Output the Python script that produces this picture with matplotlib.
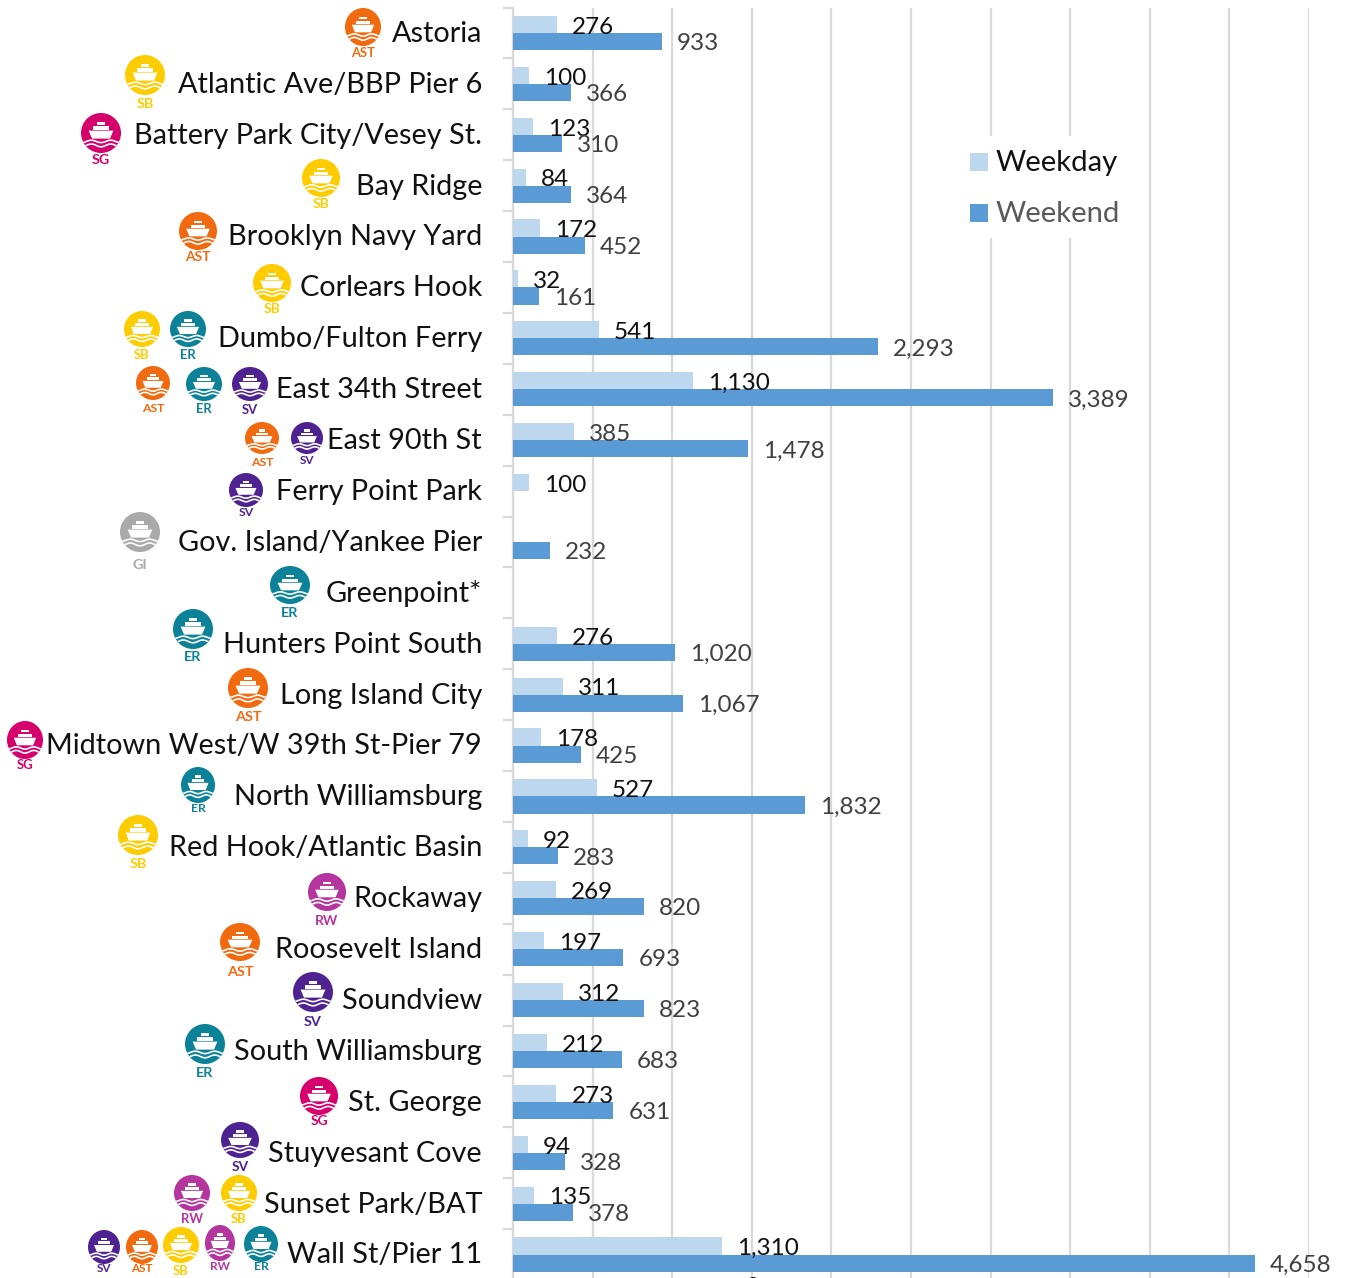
import numpy as np
import matplotlib
matplotlib.use("Agg")
import matplotlib.pyplot as plt
from matplotlib.patches import Ellipse, Polygon, Rectangle
from matplotlib.transforms import ScaledTranslation

stops = ["Astoria", "Atlantic Ave/BBP Pier 6", "Battery Park City/Vesey St.", "Bay Ridge",
         "Brooklyn Navy Yard", "Corlears Hook", "Dumbo/Fulton Ferry", "East 34th Street",
         "East 90th St", "Ferry Point Park", "Gov. Island/Yankee Pier", "Greenpoint*",
         "Hunters Point South", "Long Island City", "Midtown West/W 39th St-Pier 79",
         "North Williamsburg", "Red Hook/Atlantic Basin", "Rockaway", "Roosevelt Island",
         "Soundview", "South Williamsburg", "St. George", "Stuyvesant Cove",
         "Sunset Park/BAT", "Wall St/Pier 11"]
weekday = [276, 100, 123, 84, 172, 32, 541, 1130, 385, 100, np.nan, np.nan, 276, 311, 178,
           527, 92, 269, 197, 312, 212, 273, 94, 135, 1310]
weekend = [933, 366, 310, 364, 452, 161, 2293, 3389, 1478, np.nan, 232, np.nan, 1020, 1067,
           425, 1832, 283, 820, 693, 823, 683, 631, 328, 378, 4658]
series_names = ["Weekday", "Weekend"]
x_grid = [0, 500, 1000, 1500, 2000, 2500, 3000, 3500, 4000, 4500, 5000]

# route badges: code, centre x, centre y, radius x, radius y, label y (pixels)
badges = [("AST", 363, 27, 18, 19, 52), ("SB", 145, 75, 20, 20, 103), ("SG", 101, 133, 20, 20, 159),
          ("SB", 321, 178, 19, 19, 203), ("AST", 198, 231, 19, 19, 256), ("SB", 272, 283, 19, 19, 308),
          ("SB", 142, 329, 18, 18, 354), ("ER", 188, 329, 18, 18, 354), ("AST", 153, 383, 17, 17, 408),
          ("ER", 204, 384, 18, 17, 408), ("SV", 250, 384, 18, 17, 409), ("AST", 262, 438, 17, 16, 461),
          ("SV", 307, 438, 16, 16, 460), ("SV", 246, 490, 17, 17, 511), ("GI", 140, 532, 20, 20, 564),
          ("ER", 290, 585, 20, 19, 612), ("ER", 193, 629, 20, 20, 656), ("AST", 248, 688, 20, 20, 716),
          ("SG", 25, 740, 18, 19, 764), ("ER", 198, 785, 17, 18, 807), ("SB", 138, 835, 20, 20, 863),
          ("RW", 327, 892, 19, 19, 920), ("AST", 240, 942, 20, 19, 971), ("SV", 313, 992, 20, 20, 1021),
          ("ER", 205, 1044, 20, 20, 1072), ("SG", 319, 1096, 19, 19, 1120), ("SV", 240, 1140, 19, 18, 1166),
          ("RW", 192, 1193, 18, 18, 1218), ("SB", 239, 1193, 18, 18, 1218), ("SV", 104, 1247, 16, 17, 1268),
          ("AST", 142, 1247, 16, 17, 1268), ("SB", 181, 1245, 18, 18, 1270), ("RW", 220, 1243, 15, 18, 1266),
          ("ER", 261, 1244, 17, 18, 1266)]
badge_colors = {"AST": "#F26A0F", "SB": "#FFCC00", "SG": "#D6006D", "SV": "#4F2291",
                "ER": "#0B8297", "RW": "#B5359F", "GI": "#A9A9A9"}

W, H = 1348, 1278
FONT = ["Lato", "DejaVu Sans"]
plt.rcParams["font.family"] = FONT
fig = plt.figure(figsize=(W / 100, H / 100), dpi=100)

row = 50.9
top = 7.5
ax = fig.add_axes([513 / W, 1 - (top + 25 * row) / H, 796 / W, 25 * row / H])
y = np.arange(len(stops))
bar_h = 0.335
ax.barh(y - bar_h / 2, weekday, height=bar_h, color="#BDD7EE", zorder=3)
ax.barh(y + bar_h / 2, weekend, height=bar_h, color="#5B9BD5", zorder=3)
ax.set_xlim(0, 5000)
ax.set_ylim(len(stops) - 0.5, -0.5)
ax.set_xticks(x_grid)
ax.tick_params(axis="x", length=0, labelbottom=False)
ax.grid(axis="x", color="#D9D9D9", lw=1.6, zorder=0)
ax.set_axisbelow(True)
ax.set_yticks(y)
ax.set_yticklabels(stops, fontsize=20.8, color="#111111")
ax.tick_params(axis="y", which="major", length=0, pad=22.3)
ax.set_yticks(np.arange(len(stops) + 1) - 0.5, minor=True)
ax.tick_params(axis="y", which="minor", length=7, width=1.6, color="#D9D9D9")
shift = ScaledTranslation(0, 1.6 / 100, fig.dpi_scale_trans)
for lab in ax.get_yticklabels():
    lab.set_transform(lab.get_transform() + shift)
for s in ["top", "right", "bottom"]:
    ax.spines[s].set_visible(False)
ax.spines["left"].set_color("#D9D9D9")
ax.spines["left"].set_linewidth(1.6)

for i, (a, b) in enumerate(zip(weekday, weekend)):
    if not np.isnan(a):
        ax.annotate(f"{a:,}", (a, i - bar_h / 2), xytext=(10.8, -2.0), textcoords="offset points",
                    va="center", ha="left", fontsize=17.5,
                    color="#404040" if a == 385 else "#111111", zorder=5)
    if not np.isnan(b):
        ax.annotate(f"{b:,}", (b, i + bar_h / 2), xytext=(10.8, -1.6), textcoords="offset points",
                    va="center", ha="left", fontsize=17.5, color="#404040", zorder=5)

# overlay in pixel coordinates for the legend and badges
ov = fig.add_axes([0, 0, 1, 1], facecolor="none")
ov.set_xlim(0, W)
ov.set_ylim(H, 0)
ov.axis("off")

# legend
ov.add_patch(Rectangle((960, 136), 165, 102, fc="white", ec="none", zorder=2))
ov.add_patch(Rectangle((970, 153), 18, 18, fc="#BDD7EE", ec="none", zorder=3))
ov.add_patch(Rectangle((970, 204), 18, 18, fc="#5B9BD5", ec="none", zorder=3))
ov.text(996, 163, series_names[0], fontsize=21.1, color="#111111", va="center", ha="left", zorder=3)
ov.text(996, 214, series_names[1], fontsize=21.1, color="#595959", va="center", ha="left", zorder=3)
ov.text(752, 1287, "0", fontsize=17.5, color="#111111", va="center", ha="center", clip_on=True)


def badge(code, cx, cy, rx, ry, ly):
    col = badge_colors[code]
    e = Ellipse((cx, cy), 2 * rx, 2 * ry, fc=col, ec="none", zorder=3)
    ov.add_patch(e)
    hull = [(-0.62, -0.12), (0.62, -0.12), (0.45, 0.28), (-0.45, 0.28)]
    cab = [(-0.38, -0.34), (0.38, -0.34), (0.38, -0.17), (-0.38, -0.17)]
    top_ = [(-0.2, -0.55), (0.2, -0.55), (0.2, -0.4), (-0.2, -0.4)]
    for poly in (hull, cab, top_):
        pts = [(cx + px * rx, cy + py * ry) for px, py in poly]
        ov.add_patch(Polygon(pts, fc="white", ec="none", zorder=4))
    t = np.linspace(-1, 1, 40)
    for off, amp in zip((0.42, 0.62), (0.06, 0.07)):
        ln, = ov.plot(cx + t * rx, cy + (off + amp * np.cos(t * 6.5)) * ry,
                      color="white", lw=1.2, zorder=4)
        ln.set_clip_path(e)
    ov.text(cx, ly + 1, code, fontsize=max(8.5, rx * 0.52), fontweight="bold", color=col,
            ha="center", va="center", zorder=4)


for b_ in badges:
    badge(*b_)

fig.savefig("out.png", dpi=100)
